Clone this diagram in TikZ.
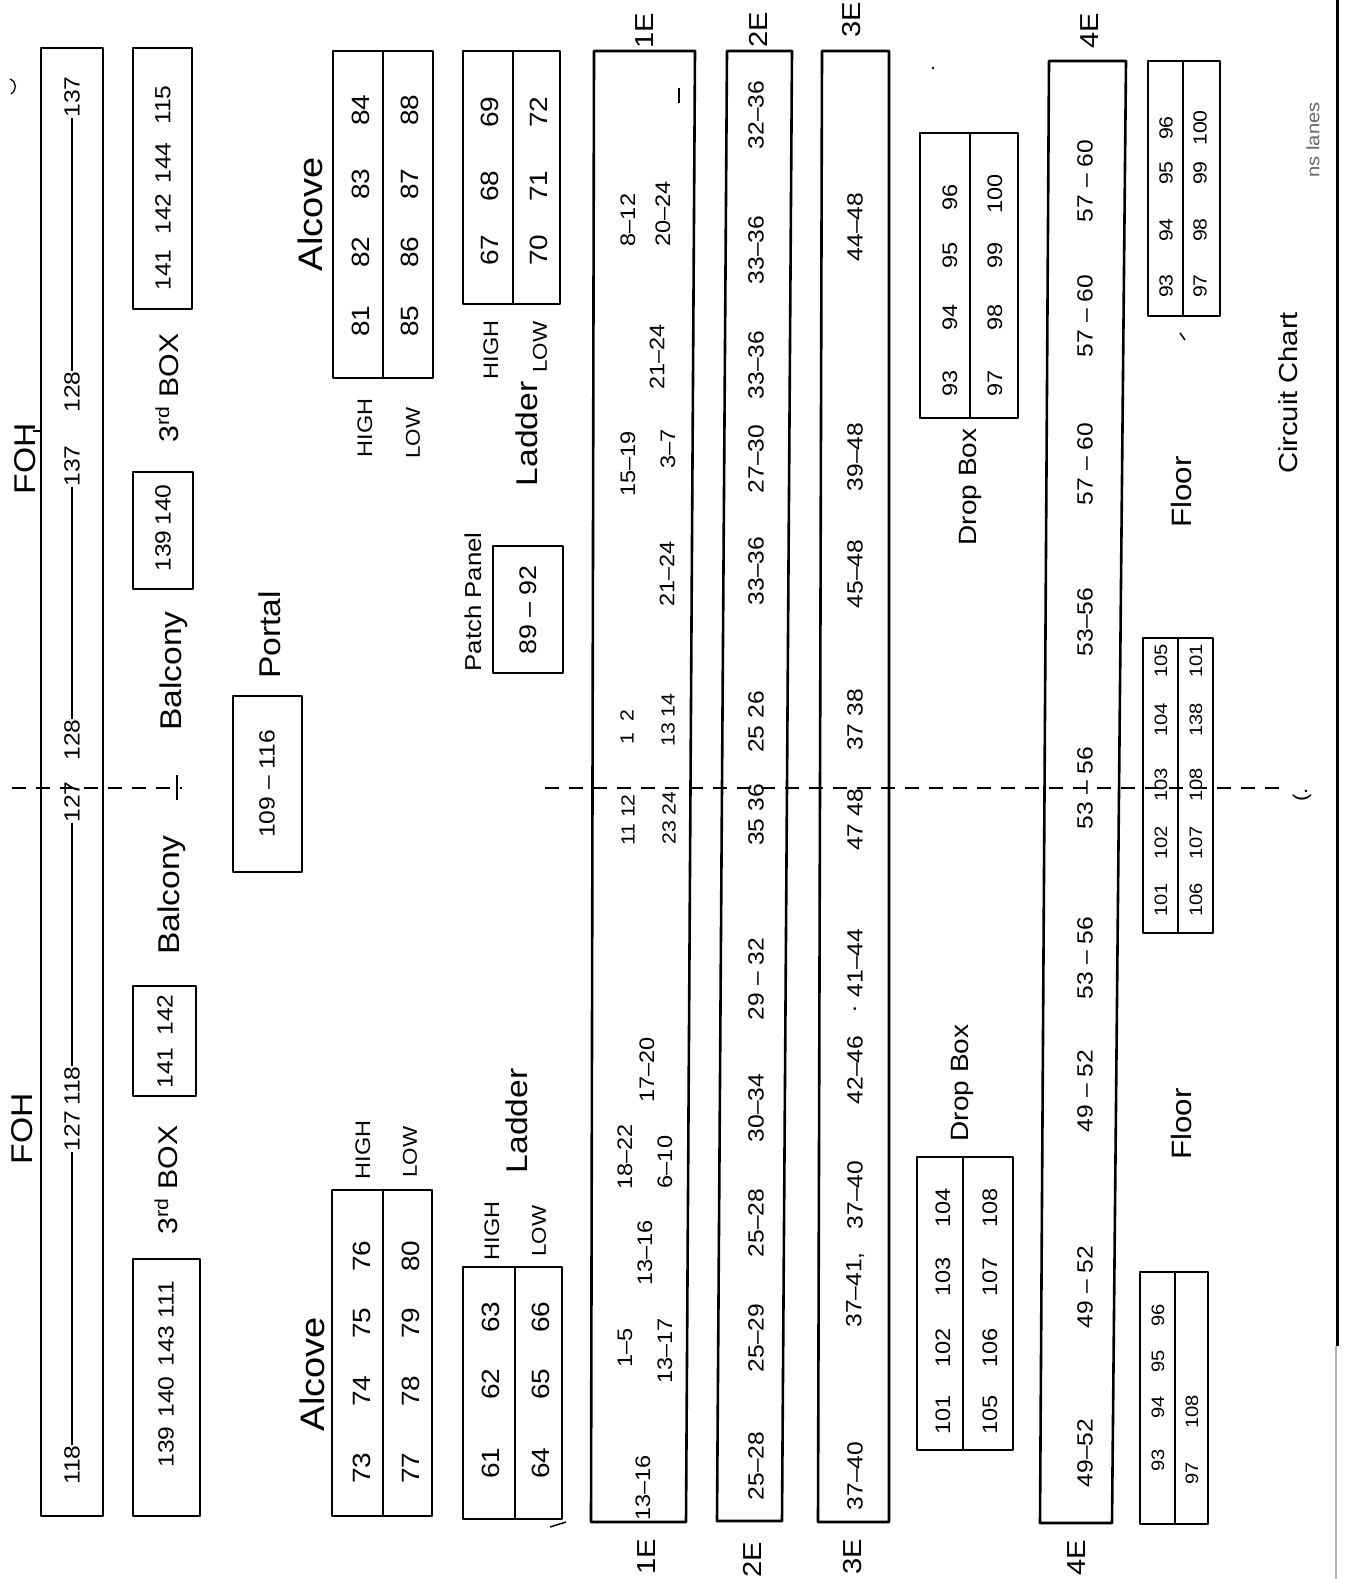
\documentclass[tikz,border=0pt]{standalone}
\usepackage{fontspec}
\setmainfont{Liberation Sans}[FakeStretch=1.12]
\begin{document}
\begin{tikzpicture}[x=1pt,y=-1pt,
  box/.style={line width=2.6pt,line join=round},
  mid/.style={line width=1.8pt},
  t/.style={rotate=90,inner sep=0.5pt,font=\fontsize{#1}{#1}\selectfont},
  dsh/.style={line width=1.8pt,dash pattern=on 14pt off 10pt}]
\useasboundingbox (0,0) rectangle (1351,1579);
\fill[white] (0,0) rectangle (1351,1579);

% ---------- FOH bar ----------
\draw[box] (41,48) rectangle (103,1516);
\node[t=22] (f137a) at (72,97) {137};
\node[t=22] (f128a) at (72,392) {128};
\node[t=22] (f137b) at (72,466) {137};
\node[t=22] (f128b) at (72,740) {128};
\node[t=22] (f127a) at (72,802) {127};
\node[t=22] (f118a) at (72,1086) {118};
\node[t=22] (f127b) at (72,1131) {127};
\node[t=22] (f118b) at (72,1465) {118};
\draw[line width=1.6pt] (f128a.east) -- (f137a.west);
\draw[line width=1.6pt] (f128b.east) -- (f137b.west);
\draw[line width=1.6pt] (f118a.east) -- (f127a.west);
\draw[line width=1.6pt] (f118b.east) -- (f127b.west);
\node[t=30] (foh1) at (25,459) {FOH};
\node[t=30] (foh2) at (22,1129) {FOH};
\draw[line width=1.6pt] (33,431) -- (42,431);

% ---------- 3rd box / balcony column ----------
\draw[box] (133,48) rectangle (192,309);
\foreach \v/\y [count=\i] in {115/105,144/163,142/214,141/270}
  \node[t=22] (ta\i) at (163,\y) {\v};
\node[t=27] (box3a) at (167,388) {3\textsuperscript{rd} BOX};
\draw[box] (133,472) rectangle (193,589);
\node[t=22] (tb1) at (163,505) {140};
\node[t=22] (tb2) at (163,551) {139};
\node[t=30] (balc1) at (174,671) {Balcony};
\node[t=30] (balc2) at (172,895) {Balcony};
\draw[box] (133,986) rectangle (196,1096);
\node[t=22] (tc1) at (165,1015) {142};
\node[t=22] (tc2) at (165,1068) {141};
\node[t=27] (box3b) at (166,1180) {3\textsuperscript{rd} BOX};
\draw[box] (133,1259) rectangle (200,1516);
\foreach \v/\y [count=\i] in {111/1300,143/1346,140/1397,139/1447}
  \node[t=22] (td\i) at (166,\y) {\v};

% ---------- Portal ----------
\draw[box] (233,696) rectangle (302,872);
\node[t=22] (port) at (267,784) {109 – 116};
\node[t=30] (portl) at (270,635) {Portal};

% ---------- upper Alcove ----------
\node[t=34] (alc1) at (310,214) {Alcove};
\draw[box] (333,51) rectangle (433,378);
\draw[mid] (383,51) -- (383,378);
\foreach \v/\y [count=\i] in {84/110,83/184,82/252,81/321}
  \node[t=25] (uah\i) at (361,\y) {\v};
\foreach \v/\y [count=\i] in {88/110,87/184,86/252,85/321}
  \node[t=25] (ual\i) at (410,\y) {\v};
\node[t=21] (uahigh) at (365,428) {HIGH};
\node[t=20] (ualow) at (413,433) {LOW};

% ---------- upper Ladder ----------
\draw[box] (463,51) rectangle (560,304);
\draw[mid] (513,51) -- (513,304);
\foreach \v/\y [count=\i] in {69/112,68/186,67/250}
  \node[t=25] (ulh\i) at (490,\y) {\v};
\foreach \v/\y [count=\i] in {72/112,71/186,70/250}
  \node[t=25] (ull\i) at (539,\y) {\v};
\node[t=21] (ulhigh) at (491,350) {HIGH};
\node[t=20] (ullow) at (540,347) {LOW};
\node[t=30] (ulad) at (527,434) {Ladder};

% ---------- Patch panel ----------
\node[t=23] (pp) at (473,602) {Patch Panel};
\draw[box] (493,546) rectangle (563,673);
\node[t=24] (ppn) at (528,610) {89 – 92};

% ---------- lower Alcove ----------
\node[t=34] (alc2) at (312,1374) {Alcove};
\draw[box] (332,1190) rectangle (432,1516);
\draw[mid] (383,1190) -- (383,1516);
\foreach \v/\y [count=\i] in {76/1256,75/1323,74/1391,73/1468}
  \node[t=25] (lah\i) at (362,\y) {\v};
\foreach \v/\y [count=\i] in {80/1256,79/1323,78/1391,77/1468}
  \node[t=25] (lal\i) at (411,\y) {\v};
\node[t=21] (lahigh) at (363,1150) {HIGH};
\node[t=20] (lalow) at (410,1152) {LOW};

% ---------- lower Ladder ----------
\node[t=30] (llad) at (517,1121) {Ladder};
\draw[box] (463,1267) rectangle (562,1519);
\draw[mid] (515,1267) -- (515,1519);
\foreach \v/\y [count=\i] in {63/1317,62/1384,61/1463}
  \node[t=25] (llh\i) at (491,\y) {\v};
\foreach \v/\y [count=\i] in {66/1317,65/1384,64/1463}
  \node[t=25] (lll\i) at (541,\y) {\v};
\node[t=21] (llhigh) at (492,1231) {HIGH};
\node[t=20] (lllow) at (539,1231) {LOW};
\draw[line width=1.5pt] (550,1527) -- (566,1522);

% ---------- 1E ----------
\draw[box] (594,51) -- (695,51) -- (686,1522) -- (591,1522) -- cycle;
\node[t=26] (e1t) at (645,31) {1E};
\node[t=26] (e1b) at (647,1557) {1E};
\draw[line width=2pt] (679,88) -- (679,103);
\node[t=21] (e1a) at (628,220) {8–12};
\node[t=21] (e1b2) at (663,214) {20–24};
\node[t=21] (e1c) at (657,357) {21–24};
\node[t=21] (e1d) at (628,464) {15–19};
\node[t=21] (e1e) at (668,449) {3–7};
\node[t=21] (e1f) at (667,574) {21–24};
\node[t=19] (e1g) at (627,727) {1\ \ 2};
\node[t=19] (e1h) at (668,720) {13 14};
\node[t=19] (e1i) at (628,820) {11 12};
\node[t=19] (e1j) at (669,818) {23 24};
\node[t=21] (e1k) at (647,1070) {17–20};
\node[t=21] (e1l) at (625,1157) {18–22};
\node[t=21] (e1m) at (665,1162) {6–10};
\node[t=21] (e1n) at (645,1253) {13–16};
\node[t=21] (e1o) at (625,1348) {1–5};
\node[t=21] (e1p) at (665,1351) {13–17};
\node[t=21] (e1q) at (643,1488) {13–16};

% ---------- 2E ----------
\draw[box] (727,51) -- (792,51) -- (782,1521) -- (717,1521) -- cycle;
\node[t=26] (e2t) at (758,30) {2E};
\node[t=26] (e2b) at (752,1560) {2E};
\foreach \v/\y [count=\i] in {32–36/115,33–36/250,33–36/365,27–30/459,33–36/571,25 26/722,35 36/815,29 – 32/979,30–34/1108,25–28/1223,25–29/1338,25–28/1466}
  \node[t=22] (e2n\i) at (756,\y) {\v};

% ---------- 3E ----------
\draw[box] (822,51) -- (889,51) -- (889,1522) -- (818,1522) -- cycle;
\node[t=26] (e3t) at (852,20) {3E};
\node[t=26] (e3b) at (853,1557) {3E};
\foreach \v/\y [count=\i] in {44–48/227,39–48/457,45–48/574,37 38/720,47 48/820,41–44/963,./1009,42–46/1070,37–40/1195,{37–41,}/1290,37–40/1476}
  \node[t=22] (e3n\i) at (855,\y) {\v};

% ---------- upper Drop Box ----------
\draw[box] (920,133) rectangle (1018,418);
\draw[mid] (970,133) -- (970,418);
\foreach \v/\y [count=\i] in {96/197,95/255,94/317,93/383}
  \node[t=21] (udh\i) at (950,\y) {\v};
\foreach \v/\y [count=\i] in {100/194,99/255,98/317,97/383}
  \node[t=21] (udl\i) at (995,\y) {\v};
\node[t=25] (udrop) at (970,487) {Drop Box};

% ---------- lower Drop Box ----------
\node[t=25] (ldrop) at (962,1083) {Drop Box};
\draw[box] (917,1157) rectangle (1013,1450);
\draw[mid] (963,1157) -- (963,1450);
\foreach \v/\y [count=\i] in {104/1208,103/1277,102/1348,101/1415}
  \node[t=21] (ldh\i) at (943,\y) {\v};
\foreach \v/\y [count=\i] in {108/1208,107/1277,106/1348,105/1415}
  \node[t=21] (ldl\i) at (990,\y) {\v};

% ---------- 4E ----------
\draw[box] (1049,61) -- (1126,61) -- (1112,1523) -- (1040,1523) -- cycle;
\node[t=26] (e4t) at (1090,31) {4E};
\node[t=26] (e4b) at (1077,1558) {4E};
\foreach \v/\y [count=\i] in {57 – 60/181,57 – 60/316,57 – 60/464,53–56/622,53 – 56/788,53 – 56/958,49 – 52/1091,49 – 52/1287,49–52/1453}
  \node[t=22] (e4n\i) at (1085,\y) {\v};

% ---------- Floor boxes ----------
\draw[box] (1148,61) rectangle (1220,316);
\draw[mid] (1183,61) -- (1183,316);
\foreach \v/\y [count=\i] in {96/128,95/173,94/230,93/286}
  \node[t=19] (ufh\i) at (1166,\y) {\v};
\foreach \v/\y [count=\i] in {100/128,99/173,98/230,97/286}
  \node[t=19] (ufl\i) at (1200,\y) {\v};
\draw[line width=1.5pt] (1180,333) -- (1185,340);
\node[t=28] (floor1) at (1181,492) {Floor};

\draw[box] (1143,638) rectangle (1213,933);
\draw[mid] (1178,638) -- (1178,933);
\foreach \v/\y [count=\i] in {105/661,104/720,103/785,102/843,101/900}
  \node[t=18] (mfh\i) at (1161,\y) {\v};
\foreach \v/\y [count=\i] in {101/661,138/720,108/785,107/843,106/900}
  \node[t=18] (mfl\i) at (1196,\y) {\v};

\node[t=28] (floor2) at (1181,1124) {Floor};
\draw[box] (1140,1272) rectangle (1208,1524);
\draw[mid] (1175,1272) -- (1175,1524);
\foreach \v/\y [count=\i] in {96/1315,95/1361,94/1407,93/1460}
  \node[t=18] (lfh\i) at (1158,\y) {\v};
\node[t=18] (lfl1) at (1192,1412) {108};
\node[t=18] (lfl2) at (1192,1473) {97};

% ---------- titles and marks ----------
\node[t=26] (cc) at (1288,393) {Circuit Chart};
\node[t=18,text=black!60] (nl) at (1313,140) {ns lanes};
\node[t=20] (par) at (1302,795) {(.};
\draw[line width=3pt] (1337,0) -- (1337,1346);
\draw[gray!60,line width=1.5pt] (1336,1346) -- (1336,1579);
\draw[line width=1.3pt] (10,79) .. controls (17,82) and (17,90) .. (11,94);
\fill (933,68) circle (1.3);

% ---------- dashed centre line ----------
\draw[dsh] (12,788) -- (182,788);
\draw[dsh] (545,788) -- (1280,788);
\draw[line width=1.6pt] (177,775) -- (177,800);
\end{tikzpicture}
\end{document}
